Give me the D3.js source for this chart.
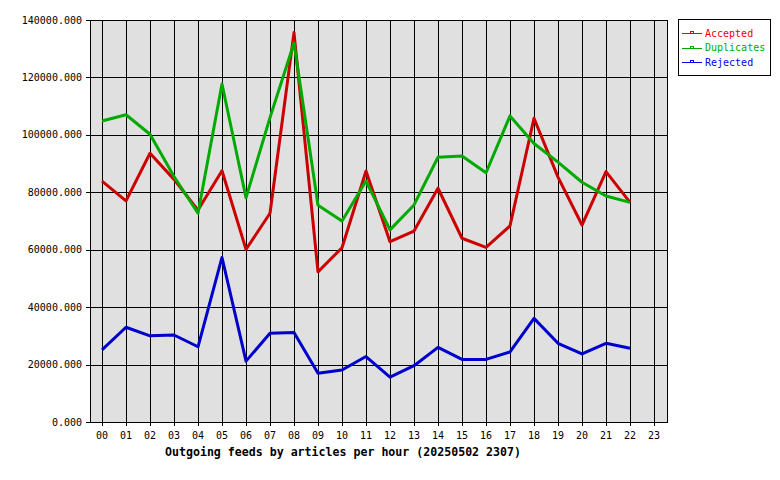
<!DOCTYPE html>
<html><head><meta charset="utf-8">
<script src="https://cdn.jsdelivr.net/npm/d3@7"></script>
<style>body{margin:0;background:#fff}svg{display:block}text{font-family:"DejaVu Sans Mono",monospace}</style>
</head><body><svg id="c" width="780" height="480"></svg>
<script>
const hours = ["00","01","02","03","04","05","06","07","08","09","10","11","12","13","14","15","16","17","18","19","20","21","22","23"];
const accepted = [83900,77000,93600,84500,73800,87500,60100,72700,135600,52300,60700,87400,62800,66500,81400,64000,60800,68300,105800,85300,68600,87200,76500];
const duplicates = [104800,107000,100200,85500,72700,117700,78100,106000,132000,75500,70000,83900,66900,75600,92200,92600,86800,106600,97000,90500,83500,78700,76500];
const rejected = [25100,33000,30000,30300,26200,57300,21200,30900,31200,17000,18100,22800,15600,19600,26000,21800,21800,24400,36100,27400,23700,27400,25700];
const yTicks = [0,20000,40000,60000,80000,100000,120000,140000];
const seriesNames = ["Accepted","Duplicates","Rejected"];
const lineColors = ["#cc0000","#00aa00","#0000cc"];
const legendColors = ["#ee0000","#00aa00","#0000ee"];

const svg = d3.select("#c");
const L=90, R=668, T=20, B=422;
const x = d3.scaleLinear().domain([-0.5,23.5]).range([L,R-2]);
const y = d3.scaleLinear().domain([0,140000]).range([B,T]);

svg.append("rect").attr("x",L).attr("y",T).attr("width",R-L).attr("height",B-T).attr("fill","#e0e0e0");

const g = svg.append("g").attr("shape-rendering","crispEdges");
g.selectAll(".vg").data(hours).join("line")
  .attr("x1",(d,i)=>Math.round(x(i))+0.5).attr("x2",(d,i)=>Math.round(x(i))+0.5)
  .attr("y1",T).attr("y2",B+4).attr("stroke","#000");
g.selectAll(".hg").data(yTicks).join("line")
  .attr("x1",L-4).attr("x2",R).attr("y1",d=>Math.round(y(d))+0.5).attr("y2",d=>Math.round(y(d))+0.5).attr("stroke","#000");
g.append("rect").attr("x",L+0.5).attr("y",T+0.5).attr("width",R-L-1).attr("height",B-T).attr("fill","none").attr("stroke","#000");

svg.selectAll(".yl").data(yTicks).join("text")
  .attr("x",82).attr("y",d=>y(d)).attr("dy","0.35em").attr("text-anchor","end")
  .attr("font-size","10px").text(d=>d3.format(".3f")(d));
svg.selectAll(".xl").data(hours).join("text")
  .attr("x",(d,i)=>x(i)).attr("y",435).attr("dy","0.35em").attr("text-anchor","middle")
  .attr("font-size","10px").text(d=>d);
svg.append("text").attr("x",343).attr("y",452).attr("dy","0.35em").attr("text-anchor","middle")
  .attr("font-size","11.6px").attr("font-weight","bold").text("Outgoing feeds by articles per hour (20250502 2307)");

const line = d3.line().x((d,i)=>x(i)).y(d=>y(d));
[accepted,duplicates,rejected].forEach((s,k)=>{
  svg.append("path").datum(s).attr("d",line).attr("fill","none")
    .attr("stroke",lineColors[k]).attr("stroke-width",3).attr("stroke-linejoin","round");
});

const lg = svg.append("g");
lg.append("rect").attr("x",678.5).attr("y",19.5).attr("width",92).attr("height",56).attr("fill","#fff").attr("stroke","#000").attr("shape-rendering","crispEdges");
seriesNames.forEach((n,k)=>{
  const yy = 33 + k*14.6;
  lg.append("line").attr("x1",682).attr("x2",702).attr("y1",Math.round(yy)+0.5).attr("y2",Math.round(yy)+0.5).attr("stroke",legendColors[k]).attr("shape-rendering","crispEdges");
  lg.append("rect").attr("x",690.5).attr("y",Math.round(yy)-1.5).attr("width",3).attr("height",2).attr("fill","none").attr("stroke",legendColors[k]).attr("stroke-width",1).attr("shape-rendering","crispEdges");
  lg.append("text").attr("x",705).attr("y",yy).attr("dy","0.35em").attr("font-size","10px").attr("fill",legendColors[k]).text(n);
});
</script></body></html>
